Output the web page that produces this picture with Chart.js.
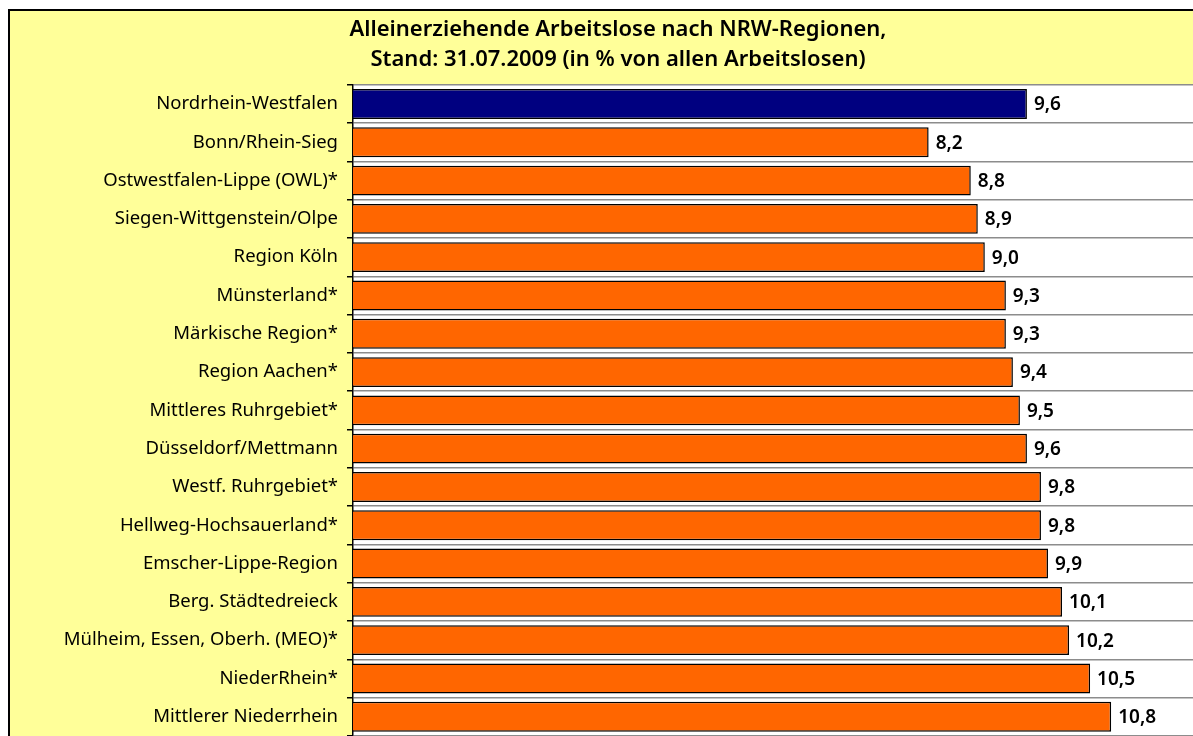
<!DOCTYPE html>
<html><head><meta charset="utf-8">
<script src="https://cdn.jsdelivr.net/npm/chart.js@4.4.0/dist/chart.umd.min.js"></script>
<style>
html,body{margin:0;padding:0;background:#fff;overflow:hidden;width:1193px;height:736px;}
#wrap{position:absolute;left:0;top:0;width:1227px;height:756px;}
</style></head><body>
<div id="wrap"><canvas id="c"></canvas></div>
<script>
const categories = ["Nordrhein-Westfalen","Bonn/Rhein-Sieg","Ostwestfalen-Lippe (OWL)*","Siegen-Wittgenstein/Olpe","Region Köln","Münsterland*","Märkische Region*","Region Aachen*","Mittleres Ruhrgebiet*","Düsseldorf/Mettmann","Westf. Ruhrgebiet*","Hellweg-Hochsauerland*","Emscher-Lippe-Region","Berg. Städtedreieck","Mülheim, Essen, Oberh. (MEO)*","NiederRhein*","Mittlerer Niederrhein"];
const values = [9.6,8.2,8.8,8.9,9.0,9.3,9.3,9.4,9.5,9.6,9.8,9.8,9.9,10.1,10.2,10.5,10.8];
const titleLines = ["Alleinerziehende Arbeitslose nach NRW-Regionen,","Stand: 31.07.2009 (in % von allen Arbeitslosen)"];
const FONT = "'Noto Sans', sans-serif";

const bgPlugin = {
  id:'bg',
  beforeDraw(chart){
    const ctx = chart.ctx, a = chart.chartArea;
    ctx.save();
    ctx.fillStyle = '#FFFF99';
    ctx.fillRect(9,10,chart.width-9,chart.height-10);
    ctx.strokeStyle = '#000'; ctx.lineWidth = 2;
    ctx.beginPath(); ctx.moveTo(9,chart.height); ctx.lineTo(9,10); ctx.lineTo(chart.width,10); ctx.stroke();
    ctx.fillStyle = '#fff';
    ctx.fillRect(a.left,a.top,a.right-a.left,a.bottom-a.top);
    ctx.restore();
  }
};
const labelPlugin = {
  id:'vals',
  afterDatasetsDraw(chart){
    const ctx = chart.ctx;
    const meta = chart.getDatasetMeta(0);
    ctx.save();
    ctx.font = "600 19px " + FONT;
    ctx.fillStyle = '#000';
    ctx.textBaseline = 'middle';
    ctx.textAlign = 'left';
    meta.data.forEach((bar,i)=>{
      ctx.fillText(values[i].toFixed(1).replace('.',','), bar.x + 7, bar.y + 1);
    });
    ctx.restore();
  }
};

new Chart(document.getElementById('c'), {
  type:'bar',
  data:{
    labels:categories,
    datasets:[{
      data:values,
      backgroundColor:values.map((v,i)=> i===0 ? '#000080' : '#FF6600'),
      borderColor:'#000',
      borderWidth:1.5,
      categoryPercentage:1,
      barPercentage:0.78
    }]
  },
  options:{
    indexAxis:'y',
    responsive:true,
    maintainAspectRatio:false,
    animation:false,
    layout:{padding:{left:9,top:10,right:0,bottom:0}},
    plugins:{
      legend:{display:false},
      tooltip:{enabled:false},
      title:{display:true,text:titleLines,color:'#000',
        font:{family:FONT,size:22,weight:'600',lineHeight:1.36},
        padding:{top:5,bottom:10}}
    },
    scales:{
      x:{display:false,min:0,max:12.45},
      y:{
        afterFit(s){ s.width = 344; },
        grid:{color:'#8c8c8c',lineWidth:1.5,offset:true,drawTicks:true,tickLength:6,tickColor:'#000'},
        border:{display:true,color:'#000',width:1.5},
        ticks:{color:'#000',padding:9,font:{family:FONT,size:18.5}}
      }
    }
  },
  plugins:[bgPlugin,labelPlugin]
});
</script>
</body></html>
